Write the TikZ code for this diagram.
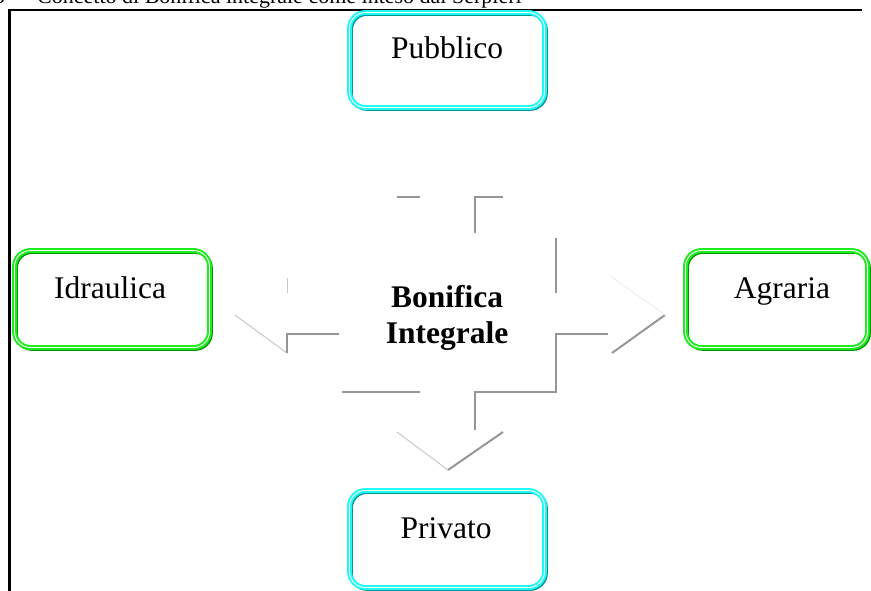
\documentclass[tikz,border=0pt]{standalone}
\usepackage{fontspec}
\setmainfont{Liberation Serif}
\definecolor{cyanlt}{RGB}{30,250,250}
\definecolor{cyandk}{RGB}{0,150,150}
\definecolor{greenlt}{RGB}{30,235,30}
\definecolor{greendk}{RGB}{0,150,0}
\definecolor{shadeA}{RGB}{150,150,150}
\definecolor{shadeB}{RGB}{200,200,200}
\definecolor{shadeC}{RGB}{235,235,235}
\begin{document}
\begin{tikzpicture}[x=1pt,y=-1pt,
  rbox/.style 2 args={rectangle, rounded corners=16pt, inner sep=0pt,
    draw=#1, line width=2pt, double=white, double distance=0.9pt,
    preaction={draw=#2, line width=3.5pt, transform canvas={shift={(1.6pt,-1.6pt)}}}},
  pubstyle/.style={rbox={cyanlt}{cyandk}},
  agrstyle/.style={rbox={greenlt}{greendk}},
  lbl/.style={font=\fontsize{31.5}{36}\selectfont, anchor=base, inner sep=0pt},
  edgeA/.style={draw=shadeA, line width=2pt},
  edgeB/.style={draw=shadeB, line width=1pt},
  edgeC/.style={draw=shadeC, line width=0.8pt}]
\useasboundingbox (0,0) rectangle (871,590);
% title (cut at top)
\node[font=\fontsize{22}{26}\selectfont, anchor=base east, inner sep=0pt] (num) at (5,3) {5};
\node[font=\fontsize{22}{26}\selectfont, anchor=base west, inner sep=0pt] (ttl) at (37,3) {Concetto di Bonifica integrale come inteso dal Serpieri};
% frame
\draw[line width=2.5pt] (9.5,592) -- (9.5,10) -- (862,10);
% boxes
\node[pubstyle, minimum width=195pt, minimum height=95pt] (pubbox) at (447,60) {};
\node[pubstyle, minimum width=195pt, minimum height=97pt] (privbox) at (447,539) {};
\node[agrstyle, minimum width=195pt, minimum height=97pt] (idrbox) at (112,299) {};
\node[agrstyle, minimum width=182pt, minimum height=97pt] (agrbox) at (776.5,299) {};
\node[lbl] (pub) at (447,58) {Pubblico};
\node[lbl] (priv) at (446,538) {Privato};
\node[lbl] (idr) at (110,298) {Idraulica};
\node[lbl] (agr) at (782,298) {Agraria};
\node[font=\bfseries\fontsize{31.5}{36}\selectfont, align=center, inner sep=0pt] (center) at (447,318) {Bonifica\\Integrale};
% quad arrow outline (shaded edges)
\draw[edgeA] (397,197) -- (420,197);
\draw[edgeA] (475,233) -- (475,197) -- (503,197);
\draw[edgeA] (556,238) -- (556,293);
\draw[edgeB] (287,278) -- (287,293);
\draw[edgeB] (235,315) -- (287,353);
\draw[edgeA] (287,353) -- (287,334) -- (339,334);
\draw[edgeA] (608,334) -- (556,334) -- (556,392) -- (475,392) -- (475,430);
\draw[edgeA] (612,353) -- (665,315);
\draw[edgeC] (612,277) -- (665,315);
\draw[edgeA] (342,392) -- (420,392);
\draw[edgeB] (397,432) -- (448,470);
\draw[edgeA] (448,470) -- (503,432);
\end{tikzpicture}
\end{document}
